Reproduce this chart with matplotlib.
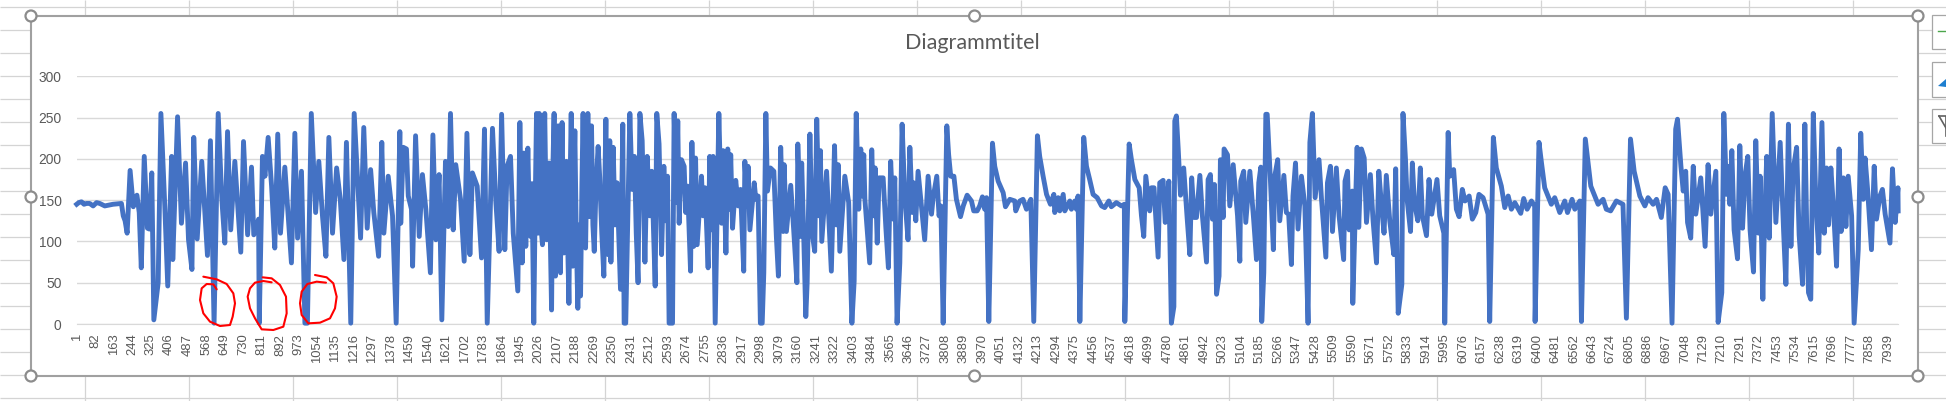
import matplotlib
matplotlib.use("Agg")
import matplotlib.pyplot as plt
from matplotlib.patches import Rectangle, Circle, Polygon

W, H = 1946, 401
SERIES_A = [(1,145),(10,147),(22,148),(33,145),(44,146),(58,146),(73,143),(88,147),(102,146),(124,143),(160,145),(197,146),(205,131),(213,125),(222,110),(235,186),(249,142),(265,156),(275,135),(284,68),(297,203),(311,116),(319,115),(330,183),(339,5),(358,50),(370,255),(387,143),(400,46),(417,203),(422,78),(430,143),(443,251),(460,122),(478,195),(491,102),(506,66),(514,226),(529,103),(549,197),(574,83),(587,222),(603,1),(621,255),(637,151),(650,98),(662,233),(676,114),(694,197),(720,87),(732,221),(750,108),(767,190),(777,108),(798,127),(801,1),(815,203),(826,179),(840,226),(855,167),(869,92),(882,230),(894,110),(913,190),(942,74),(957,231),(969,104),(986,185),(1001,1),(1012,1),(1029,255),(1048,135),(1062,197),(1078,131),(1093,82),(1106,226),(1122,110),(1140,189),(1156,151),(1172,78),(1183,220),(1202,1),(1217,255),(1245,104),(1259,238),(1274,116),(1289,187),(1303,135),(1324,82),(1338,220),(1347,110),(1366,179),(1385,131),(1401,1),(1417,233)]
SERIES_B = [(1421,122),(1432,214),(1446,212),(1454,155),(1468,139),(1473,70),(1486,228),(1502,106),(1516,181),(1531,139),(1551,62),(1562,229),(1575,102),(1589,181),(1601,5),(1617,197),(1629,118),(1639,255),(1651,114),(1662,193),(1683,151),(1699,76),(1711,231),(1724,84),(1735,183),(1756,167),(1775,80),(1788,236),(1800,1),(1823,237),(1838,147),(1852,88),(1863,254),(1877,90),(1887,191),(1902,203),(1914,110),(1934,40),(1943,244),(1953,74),(1960,207),(1969,94),(1978,213),(1985,120),(1990,106),(1996,170),(2004,1),(2010,140),(2016,255),(2023,110),(2028,255),(2035,120),(2042,96),(2047,190),(2052,255),(2060,102),(2065,170),(2070,195),(2076,110),(2082,17),(2087,180),(2093,255),(2099,58),(2105,190),(2111,240),(2116,110),(2121,62),(2125,190),(2128,244),(2136,86),(2142,175),(2147,197),(2152,105),(2158,25),(2163,170),(2168,255),(2175,70),(2180,180),(2184,234),(2190,110),(2197,19),(2203,120),(2209,34),(2215,170),(2220,255),(2226,120),(2231,92),(2236,180),(2241,255),(2249,130),(2257,240),(2263,120),(2269,88),(2277,170),(2286,215),(2293,177),(2302,110),(2311,58),(2316,180),(2320,248),(2325,120),(2330,84),(2337,222),(2342,75),(2352,214),(2360,120),(2369,171),(2376,110),(2384,42),(2390,160),(2394,242),(2400,1),(2407,1),(2416,130),(2425,255),(2435,163),(2445,203),(2453,110),(2461,50),(2469,255),(2479,222),(2491,75),(2501,203),(2513,131),(2521,185),(2529,110),(2536,46),(2543,255),(2553,218),(2564,84),(2574,191),(2582,125),(2590,179),(2597,1),(2612,1),(2619,255),(2629,147),(2635,246),(2641,122),(2651,199),(2663,191),(2670,135),(2678,167),(2691,64),(2697,220),(2705,94),(2713,201),(2720,96),(2739,179),(2746,131),(2755,165),(2768,68),(2775,203),(2780,114),(2790,203),(2799,1),(2815,255),(2827,122),(2834,210),(2846,86),(2854,212),(2863,139)]
SERIES_C = [(2867,205),(2875,116),(2889,174),(2900,143),(2910,163),(2924,64),(2929,197),(2939,143),(2943,191),(2951,114),(2970,171),(2977,151),(2987,155),(2997,1),(3005,1),(3012,62),(3021,255),(3028,161),(3041,189),(3056,185),(3067,106),(3076,58),(3086,214),(3097,112),(3101,193),(3111,112),(3130,168),(3143,114),(3157,50),(3161,218),(3173,106),(3178,195),(3187,106),(3196,9),(3202,50),(3214,230),(3224,110),(3235,88),(3244,248),(3254,131),(3260,210),(3266,100),(3287,185),(3308,64),(3322,216),(3330,120),(3338,193),(3345,88),(3367,179),(3384,147),(3398,1),(3408,52),(3417,255),(3428,139),(3437,212),(3443,155),(3450,205),(3455,151),(3476,74),(3485,211),(3494,131),(3500,189),(3509,98),(3517,177),(3535,177),(3547,116),(3558,68),(3568,197),(3579,127),(3586,177),(3596,1),(3608,74),(3618,242),(3630,153),(3644,102),(3652,214),(3663,135),(3669,171),(3678,125),(3688,185),(3717,102),(3732,179),(3747,133),(3754,153),(3770,179),(3780,131),(3788,143),(3798,1),(3814,240),(3822,205),(3831,179),(3845,179),(3856,151),(3874,130),(3886,143),(3903,156),(3922,149),(3932,137),(3947,137),(3958,143),(3970,154),(3980,139),(3988,153),(3998,3),(4014,219),(4024,191),(4039,173),(4061,159),(4071,142),(4090,151),(4112,149),(4116,137),(4134,149),(4148,151),(4163,139),(4182,151),(4195,3),(4211,228),(4221,203),(4236,179),(4251,157),(4268,145),(4283,157),(4287,135),(4302,153),(4309,137)]
SERIES_D = [(4324,157),(4331,137),(4353,149),(4360,139),(4375,149),(4382,139),(4389,155),(4397,3),(4414,226),(4426,191),(4440,175),(4455,157),(4473,153),(4492,143),(4506,141),(4524,149),(4535,142),(4557,147),(4579,143),(4592,145),(4594,3),(4613,218),(4623,199),(4638,175),(4657,165),(4667,131),(4677,106),(4686,179),(4703,137),(4711,165),(4722,165),(4740,81),(4747,171),(4762,174),(4771,123),(4787,173),(4798,1),(4809,21),(4813,246),(4820,252),(4828,212),(4838,156),(4852,189),(4867,129),(4879,84),(4887,177),(4898,129),(4908,129),(4923,180),(4934,131),(4952,75),(4959,175),(4969,181),(4978,127),(4987,169),(4996,36),(5007,58),(5013,199),(5025,129),(5029,212),(5044,205),(5054,143),(5069,193),(5088,131),(5098,76),(5102,173),(5115,185),(5124,123),(5142,185),(5159,125),(5171,78),(5181,171),(5190,190),(5194,3),(5203,62),(5212,254),(5218,254),(5232,175),(5245,90),(5251,179),(5264,199),(5273,125),(5291,180),(5302,135),(5312,133),(5324,72),(5331,155),(5342,195),(5353,115),(5368,179),(5383,143),(5397,1),(5405,220),(5416,255),(5428,153),(5445,199),(5456,151),(5475,81),(5482,171),(5495,191),(5504,112),(5521,189),(5533,131),(5553,78),(5559,173),(5570,185),(5577,114),(5591,161),(5593,25),(5612,214),(5619,117),(5631,212),(5643,201),(5653,123),(5670,181),(5682,125),(5697,74),(5707,185),(5719,143),(5730,110),(5740,180),(5755,125)]
SERIES_E = [(5773,84),(5781,188),(5792,13),(5808,48),(5813,255),(5824,199),(5831,151),(5846,112),(5854,195),(5863,147),(5878,125),(5889,189),(5898,131),(5916,107),(5927,175),(5939,133),(5962,175),(5974,131),(5992,110),(5996,1),(6011,232),(6018,179),(6035,187),(6047,139),(6059,130),(6073,163),(6085,149),(6103,155),(6117,127),(6132,135),(6146,157),(6164,153),(6186,133),(6193,3),(6209,226),(6222,189),(6244,167),(6259,141),(6274,155),(6288,139),(6303,147),(6329,134),(6342,152),(6357,139),(6376,149),(6390,143),(6392,3),(6409,220),(6420,195),(6434,165),(6463,145),(6478,153),(6500,135),(6522,149),(6534,135),(6554,151),(6566,139),(6588,149),(6595,3),(6612,224),(6624,195),(6636,167),(6668,145),(6690,151),(6704,139),(6723,137),(6748,149),(6777,145),(6792,7),(6810,224),(6826,185),(6851,155),(6873,143),(6887,153),(6909,145),(6924,151),(6945,129),(6962,165),(6975,157),(6992,1),(7008,236),(7016,248)]
SERIES_F = [(7031,191),(7041,161),(7052,185),(7060,123),(7074,104),(7085,191),(7096,133),(7118,177),(7137,94),(7150,193),(7162,133),(7184,185),(7194,2),(7210,38),(7219,255),(7231,157),(7237,191),(7245,145),(7254,210),(7264,114),(7279,79),(7289,216),(7301,116),(7312,180),(7324,203),(7334,114),(7349,63),(7359,222),(7371,110),(7378,179),(7390,30),(7397,120),(7407,203),(7418,104),(7431,255),(7447,123),(7466,220),(7481,112),(7491,48),(7502,242),(7513,94),(7523,187),(7538,214),(7549,108),(7564,48),(7574,242),(7582,120),(7590,38),(7600,30),(7611,255),(7622,151),(7635,86),(7649,244),(7659,110),(7669,189),(7678,120),(7688,189),(7698,147),(7713,70),(7724,212),(7733,112),(7743,177),(7754,118),(7764,179),(7779,131),(7790,1),(7808,90),(7819,231),(7830,151),(7838,201),(7849,163),(7866,90),(7878,191),(7888,127),(7903,155),(7914,163),(7926,133),(7947,98),(7958,188),(7970,123),(7982,165),(7983,137)]
tick_positions = list(range(1, 7940, 81))
tick_labels = [str(v) for v in tick_positions]
y_ticks = [0, 50, 100, 150, 200, 250, 300]
title = "Diagrammtitel"

scribble_1 = [(400,530),(440,538),(470,552),(490,580),(495,610),(488,650),(480,675),(450,678),(420,665),(400,640),(390,600),(395,565),(410,552),(430,553),(440,568)]
scribble_2 = [(578,532),(605,535),(630,555),(648,590),(650,640),(640,680),(610,690),(575,688),(555,655),(540,625),(533,590),(540,565),(555,548),(580,543),(605,547)]
scribble_3 = [(735,525),(770,532),(790,550),(800,590),(795,625),(780,655),(750,668),(715,670),(695,645),(690,610),(695,575),(712,552),(740,545),(768,548)]
sheet_x = [84.6 + 104.0 * i for i in range(18)]
sheet_y = [7.3 + 23.0 * i for i in range(18)]
handles = [(31,16),(974.6,16),(1918,16),(31,197),(1918,197),(31,376),(974.6,376),(1918,376)]
buttons = [(1932,15,34),(1932,62,35),(1932,109,34)]

fig = plt.figure(figsize=(W/100, H/100), dpi=100, facecolor="white")

# sheet underlay in pixel coordinates
bg = fig.add_axes([0, 0, 1, 1], zorder=0)
bg.set_xlim(0, W); bg.set_ylim(H, 0); bg.axis("off")
for x in sheet_x:
    bg.plot([x, x], [0, H], color="#D4D4D4", lw=0.9, solid_capstyle="butt")
for y in sheet_y:
    bg.plot([0, W], [y, y], color="#D4D4D4", lw=0.9, solid_capstyle="butt")
bg.add_patch(Rectangle((31, 16), 1887, 360, facecolor="white", edgecolor="#A0A0A0", lw=1.5, zorder=3))
for bx, by, bh in buttons:
    bg.add_patch(Rectangle((bx, by), 30, bh, facecolor="white", edgecolor="#A6A6A6", lw=0.9, zorder=3))
bg.plot([1938, 1946], [31, 31], color="#4CA64C", lw=1.0, zorder=4)
bg.add_patch(Polygon([[1938,86],[1946,79],[1946,87]], facecolor="#1E7FD0", edgecolor="none", zorder=4))
bg.plot([1939, 1946, 1946], [116, 116, 136], color="#606060", lw=1.2, zorder=4)
bg.plot([1939, 1946], [116, 128], color="#606060", lw=1.2, zorder=4)

# the chart
L, R, T, B = 76.7, 1898.4, 76.3, 324.0
ax = fig.add_axes([L/W, 1-B/H, (R-L)/W, (B-T)/H], zorder=2, facecolor="none")
xs, ys = [], []
for seg in (SERIES_A, SERIES_B, SERIES_C, SERIES_D, SERIES_E, SERIES_F):
    for a, b in seg:
        xs.append(a); ys.append(b)
ax.plot(xs, ys, color="#4472C4", lw=3.5, solid_joinstyle="round", clip_on=False, zorder=3)
ax.set_xlim(1, 7984)
ax.set_ylim(0, 300)
ax.set_yticks(y_ticks)
ax.set_xticks(tick_positions)
ax.set_xticklabels(tick_labels, rotation=90, fontfamily="Liberation Sans", fontsize=9.4, color="#595959")
ax.set_yticklabels([str(v) for v in y_ticks], fontfamily="Liberation Sans", fontsize=9.9, color="#595959")
ax.tick_params(axis="both", length=0)
ax.tick_params(axis="x", pad=7)
ax.tick_params(axis="y", pad=11)
ax.grid(axis="y", color="#D9D9D9", lw=1.0)
ax.set_axisbelow(True)
for s in ax.spines.values():
    s.set_visible(False)
ax.spines["bottom"].set_visible(True)
ax.spines["bottom"].set_color("#D9D9D9")

# overlay for title, ink and handles
ov = fig.add_axes([0, 0, 1, 1], zorder=5, facecolor="none")
ov.set_xlim(0, W); ov.set_ylim(H, 0); ov.axis("off")
ov.text(972.6, 43, title, ha="center", va="center", fontfamily="Lato", fontsize=15.5, color="#595959")
for sc in (scribble_1, scribble_2, scribble_3):
    ov.plot([70 + p[0]/3 for p in sc], [100 + p[1]/3 for p in sc], color="#FF0000", lw=1.5,
            solid_joinstyle="round", solid_capstyle="round")
for hx, hy in handles:
    ov.add_patch(Circle((hx, hy), 5.5, facecolor="white", edgecolor="#8C8C8C", lw=1.6, zorder=6))

fig.savefig("out.png", dpi=100)
